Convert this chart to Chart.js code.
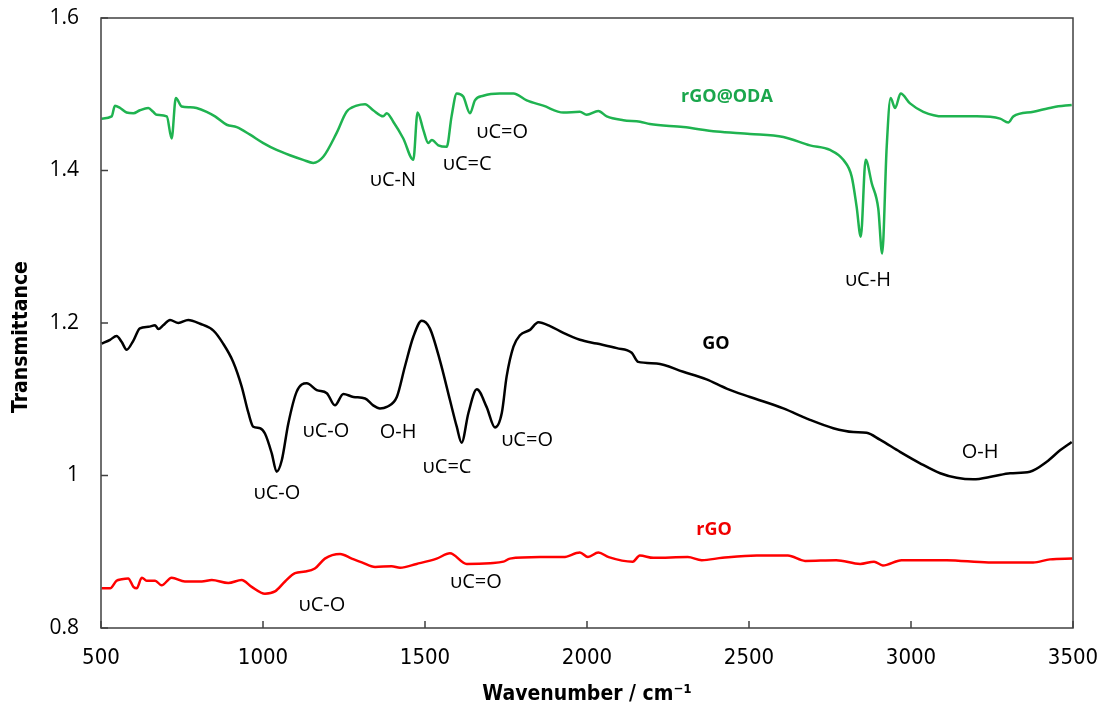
<!DOCTYPE html>
<html>
<head>
<meta charset="utf-8">
<script src="https://cdn.jsdelivr.net/npm/chart.js@4.4.1/dist/chart.umd.min.js"></script>
<style>
  html, body { margin: 0; padding: 0; background: #fff; }
  #ftir { display: block; }
</style>
</head>
<body>
<canvas id="ftir" width="1101" height="716"></canvas>
<script>
// FTIR spectra: wavenumber (cm-1) and transmittance for each sample
const odaWn = [502, 533, 543, 559, 579, 600, 620, 646, 661, 672, 703, 718, 731, 749, 775, 795, 826, 852, 888, 919,
  960, 1001, 1042, 1083, 1124, 1155, 1186, 1227, 1258, 1289, 1315, 1340, 1371, 1382, 1402, 1433, 1464, 1477, 1495, 1510,
  1521, 1541, 1567, 1582, 1598, 1618, 1639, 1654, 1680, 1731, 1773, 1814, 1865, 1927, 1978, 1999, 2035, 2061, 2112, 2164,
  2194, 2297, 2400, 2503, 2606, 2688, 2750, 2791, 2817, 2832, 2845, 2860, 2879, 2899, 2911, 2925, 2937, 2951, 2968, 2997,
  3038, 3100, 3203, 3275, 3300, 3316, 3378, 3439, 3496];
const odaT = [1.468, 1.471, 1.485, 1.482, 1.476, 1.475, 1.479, 1.482, 1.477, 1.473, 1.471, 1.442, 1.495, 1.484, 1.483, 1.482, 1.477, 1.471, 1.460, 1.457,
  1.447, 1.436, 1.427, 1.420, 1.414, 1.410, 1.418, 1.449, 1.477, 1.485, 1.487, 1.479, 1.471, 1.475, 1.464, 1.442, 1.414, 1.476, 1.453, 1.436,
  1.440, 1.433, 1.431, 1.471, 1.501, 1.497, 1.475, 1.492, 1.498, 1.501, 1.501, 1.492, 1.485, 1.476, 1.477, 1.473, 1.478, 1.471, 1.466, 1.464,
  1.461, 1.457, 1.451, 1.448, 1.444, 1.433, 1.427, 1.414, 1.392, 1.353, 1.313, 1.414, 1.383, 1.350, 1.291, 1.431, 1.495, 1.482, 1.501, 1.488,
  1.477, 1.471, 1.471, 1.468, 1.463, 1.471, 1.477, 1.483, 1.486];

const goWn = [502, 528, 548, 564, 579, 600, 620, 646, 667, 677, 692, 713, 739, 769, 806, 847, 877, 908, 934, 955,
  970, 991, 1006, 1027, 1042, 1058, 1078, 1104, 1135, 1166, 1197, 1222, 1248, 1279, 1315, 1340, 1361, 1382, 1413, 1438,
  1464, 1490, 1515, 1546, 1577, 1598, 1613, 1634, 1660, 1690, 1716, 1737, 1752, 1773, 1793, 1824, 1850, 1886, 1927, 1978,
  2030, 2092, 2138, 2158, 2215, 2297, 2369, 2431, 2503, 2606, 2688, 2760, 2822, 2863, 2904, 2966, 3028, 3090, 3141, 3192,
  3254, 3306, 3367, 3419, 3460, 3496];
const goT = [1.173, 1.178, 1.183, 1.175, 1.165, 1.177, 1.193, 1.195, 1.197, 1.192, 1.197, 1.204, 1.200, 1.204, 1.199, 1.190, 1.173, 1.149, 1.117, 1.082,
  1.064, 1.062, 1.055, 1.029, 1.005, 1.020, 1.068, 1.110, 1.121, 1.112, 1.108, 1.092, 1.107, 1.103, 1.101, 1.092, 1.088, 1.090, 1.103, 1.143,
  1.182, 1.203, 1.193, 1.151, 1.099, 1.064, 1.043, 1.082, 1.113, 1.090, 1.063, 1.082, 1.130, 1.169, 1.184, 1.191, 1.201, 1.196, 1.187, 1.178,
  1.173, 1.167, 1.161, 1.149, 1.147, 1.136, 1.126, 1.114, 1.103, 1.088, 1.073, 1.062, 1.057, 1.056, 1.047, 1.031, 1.016, 1.003, 0.997, 0.995,
  0.999, 1.003, 1.005, 1.018, 1.033, 1.044];

const rgoWn = [502, 528, 548, 564, 584, 600, 610, 626, 641, 667, 687, 718, 759, 811, 842, 893, 934, 965, 1006, 1037,
  1068, 1099, 1130, 1160, 1191, 1238, 1274, 1305, 1346, 1397, 1423, 1474, 1536, 1577, 1629, 1701, 1742, 1762, 1855, 1927,
  1978, 2003, 2035, 2067, 2141, 2163, 2205, 2311, 2354, 2418, 2524, 2620, 2673, 2769, 2843, 2886, 2913, 2971, 3110, 3239,
  3377, 3429, 3498];
const rgoT = [0.852, 0.852, 0.862, 0.864, 0.865, 0.854, 0.852, 0.866, 0.862, 0.862, 0.856, 0.866, 0.861, 0.861, 0.863, 0.859, 0.863, 0.854, 0.845, 0.848,
  0.861, 0.872, 0.874, 0.878, 0.891, 0.897, 0.891, 0.886, 0.880, 0.881, 0.879, 0.884, 0.891, 0.898, 0.884, 0.885, 0.887, 0.891, 0.893, 0.893,
  0.899, 0.893, 0.899, 0.893, 0.887, 0.895, 0.892, 0.893, 0.889, 0.892, 0.895, 0.895, 0.888, 0.889, 0.884, 0.887, 0.882, 0.889, 0.889, 0.886,
  0.886, 0.890, 0.891];

const xTicks = [500, 1000, 1500, 2000, 2500, 3000, 3500];
const yTicks = [0.8, 1.0, 1.2, 1.4, 1.6];
const yTickLabels = ['0.8', '1', '1.2', '1.4', '1.6'];

// band assignments written next to the spectra
const bandLabels = [
  { text: 'rGO@ODA', wn: 2432, t: 1.496, color: '#1aa64c', bold: true },
  { text: 'υC-N', wn: 1401, t: 1.3875, color: '#000' },
  { text: 'υC=C', wn: 1630, t: 1.4085, color: '#000' },
  { text: 'υC=O', wn: 1738, t: 1.4505, color: '#000' },
  { text: 'υC-H', wn: 2867, t: 1.256, color: '#000' },
  { text: 'GO', wn: 2398, t: 1.1725, color: '#000', bold: true },
  { text: 'υC-O', wn: 1194, t: 1.058, color: '#000' },
  { text: 'O-H', wn: 1417, t: 1.057, color: '#000' },
  { text: 'υC-O', wn: 1043, t: 0.977, color: '#000' },
  { text: 'υC=C', wn: 1568, t: 1.011, color: '#000' },
  { text: 'υC=O', wn: 1815, t: 1.0466, color: '#000' },
  { text: 'O-H', wn: 3213, t: 1.031, color: '#000' },
  { text: 'rGO', wn: 2392, t: 0.9285, color: '#f00000', bold: true },
  { text: 'υC-O', wn: 1182, t: 0.830, color: '#000' },
  { text: 'υC=O', wn: 1657, t: 0.860, color: '#000' }
];

const toPoints = (xs, ys) => xs.map((x, i) => ({ x: x, y: ys[i] }));
const axisColor = '#404040';
const narrowFont = '"Liberation Sans Narrow", "DejaVu Sans Condensed", sans-serif';

const bandText = {
  id: 'bandText',
  afterDatasetsDraw(chart) {
    const { ctx, scales } = chart;
    ctx.save();
    ctx.textAlign = 'center';
    ctx.textBaseline = 'middle';
    bandLabels.forEach(l => {
      ctx.font = l.bold ? 'bold 18px "Open Sans", sans-serif' : '20px "Open Sans", sans-serif';
      ctx.fillStyle = l.color;
      ctx.fillText(l.text, scales.x.getPixelForValue(l.wn), scales.y.getPixelForValue(l.t));
    });
    ctx.restore();
  }
};

// box round the plot with inward tick marks on the left and bottom, plus the y title
const frame = {
  id: 'frame',
  afterDraw(chart) {
    const { ctx, chartArea: a, scales } = chart;
    ctx.save();
    ctx.strokeStyle = axisColor;
    ctx.lineWidth = 1.5;
    ctx.strokeRect(a.left, a.top, a.right - a.left, a.bottom - a.top);
    ctx.beginPath();
    scales.x.ticks.forEach(t => {
      const px = scales.x.getPixelForValue(t.value);
      ctx.moveTo(px, a.bottom);
      ctx.lineTo(px, a.bottom - 7);
    });
    scales.y.ticks.forEach(t => {
      const py = scales.y.getPixelForValue(t.value);
      ctx.moveTo(a.left, py);
      ctx.lineTo(a.left + 7, py);
    });
    ctx.stroke();

    ctx.translate(22, (a.top + a.bottom) / 2 + 14);
    ctx.rotate(-Math.PI / 2);
    ctx.font = 'bold 21px ' + narrowFont;
    ctx.fillStyle = '#000';
    ctx.textAlign = 'center';
    ctx.textBaseline = 'middle';
    ctx.fillText('Transmittance', 0, 0);
    ctx.restore();
  }
};

// fixed axis boxes so the plot area does not move with label overhang
const noOverhang = s => {
  s.paddingLeft = 0;
  s.paddingRight = 0;
  s.paddingTop = 0;
  s.paddingBottom = 0;
};

const lineStyle = { pointRadius: 0, borderWidth: 2.5, fill: false, cubicInterpolationMode: 'monotone' };

new Chart(document.getElementById('ftir'), {
  type: 'line',
  plugins: [bandText, frame],
  data: {
    datasets: [
      { label: 'rGO@ODA', data: toPoints(odaWn, odaT), borderColor: '#1fb350', ...lineStyle },
      { label: 'GO', data: toPoints(goWn, goT), borderColor: '#000000', ...lineStyle },
      { label: 'rGO', data: toPoints(rgoWn, rgoT), borderColor: '#ff0000', ...lineStyle }
    ]
  },
  options: {
    responsive: false,
    animation: false,
    devicePixelRatio: 1,
    layout: { padding: { top: 18, right: 28, left: 0, bottom: 0 } },
    plugins: { legend: { display: false }, tooltip: { enabled: false } },
    scales: {
      x: {
        type: 'linear',
        min: 500,
        max: 3500,
        afterBuildTicks: s => { s.ticks = xTicks.map(v => ({ value: v })); },
        afterFit: s => { s.height = 88; noOverhang(s); },
        grid: { display: false },
        border: { display: false },
        ticks: {
          color: '#000',
          padding: 9,
          maxRotation: 0,
          autoSkip: false,
          callback: v => String(v),
          font: { family: narrowFont, size: 22 }
        },
        title: {
          display: true,
          text: 'Wavenumber / cm⁻¹',
          color: '#000',
          padding: { top: 0, bottom: 9 },
          font: { family: narrowFont, size: 21, weight: 'bold' }
        }
      },
      y: {
        type: 'linear',
        min: 0.8,
        max: 1.6,
        afterBuildTicks: s => { s.ticks = yTicks.map(v => ({ value: v })); },
        afterFit: s => { s.width = 101; noOverhang(s); },
        grid: { display: false },
        border: { display: false },
        ticks: {
          color: '#000',
          padding: 14,
          callback: (v, i) => yTickLabels[i],
          font: { family: '"Open Sans", sans-serif', size: 21 }
        }
      }
    }
  }
});
</script>
</body>
</html>
